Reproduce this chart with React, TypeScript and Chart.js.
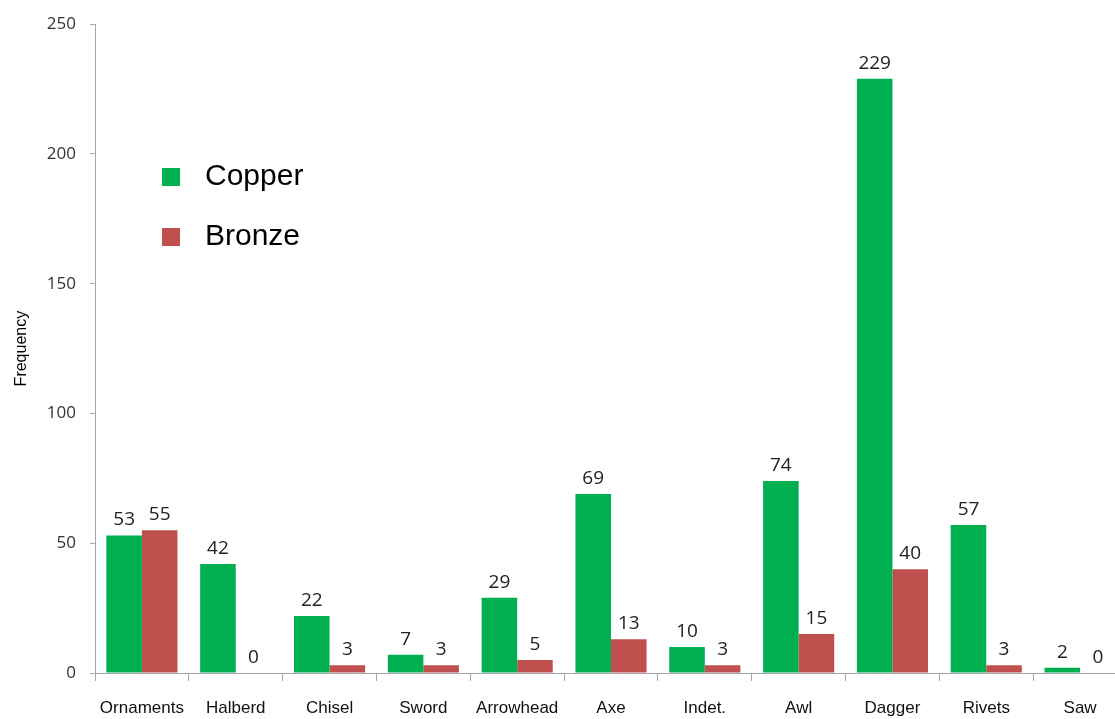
import React, { useEffect, useRef } from "react";
import { Chart, registerables } from "chart.js";

Chart.register(...registerables);

const categories = ["Ornaments", "Halberd", "Chisel", "Sword", "Arrowhead", "Axe", "Indet.", "Awl", "Dagger", "Rivets", "Saw"];
const copperValues = [53, 42, 22, 7, 29, 69, 10, 74, 229, 57, 2];
const bronzeValues = [55, 0, 3, 3, 5, 13, 3, 15, 40, 3, 0];
const yTicks = [0, 50, 100, 150, 200, 250];

const GREEN = "#00b050";
const RED = "#c0504d";
const AXIS = "#a6a6a6";

const valueLabels = {
  id: "valueLabels",
  afterDatasetsDraw(chart: any) {
    const ctx = chart.ctx;
    ctx.save();
    ctx.font = "19px 'Open Sans'";
    ctx.fillStyle = "#222";
    ctx.textAlign = "center";
    ctx.textBaseline = "bottom";
    chart.data.datasets.forEach((ds: any, di: number) => {
      const meta = chart.getDatasetMeta(di);
      meta.data.forEach((el: any, i: number) => {
        ctx.fillText(String(ds.data[i]), el.x, el.y - 6);
      });
    });
    ctx.restore();
  },
};

const innerLegend = {
  id: "innerLegend",
  afterDraw(chart: any) {
    const ctx = chart.ctx;
    ctx.save();
    ctx.font = "30px 'Liberation Sans'";
    ctx.textBaseline = "middle";
    ctx.textAlign = "left";
    chart.data.datasets.forEach((ds: any, i: number) => {
      const cy = 177 + i * 60;
      ctx.fillStyle = ds.backgroundColor;
      ctx.fillRect(162, cy - 9, 18, 18);
      ctx.fillStyle = "#000";
      ctx.fillText(ds.label, 205, cy);
    });
    ctx.restore();
  },
};

export default function App() {
  const ref = useRef<HTMLCanvasElement>(null);
  useEffect(() => {
    if (!ref.current) return;
    const chart = new Chart(ref.current, {
      type: "bar",
      data: {
        labels: categories,
        datasets: [
          { label: "Copper", data: copperValues, backgroundColor: GREEN, categoryPercentage: 0.758, barPercentage: 1.0 },
          { label: "Bronze", data: bronzeValues, backgroundColor: RED, categoryPercentage: 0.758, barPercentage: 1.0 },
        ],
      },
      options: {
        responsive: false,
        animation: false,
        layout: { padding: { top: 23, right: 13, bottom: 0, left: 0 } },
        plugins: { legend: { display: false }, tooltip: { enabled: false } },
        scales: {
          x: {
            offset: true,
            grid: { display: true, offset: true, drawOnChartArea: false, drawTicks: true, tickLength: 8, color: AXIS },
            border: { display: true, color: AXIS, width: 1 },
            ticks: { font: { family: "'Liberation Sans'", size: 17 }, color: "#111", padding: 17, maxRotation: 0, autoSkip: false },
            afterFit(scale: any) { scale.height = 46; },
          },
          y: {
            min: 0,
            max: 250,
            afterBuildTicks(scale: any) { scale.ticks = yTicks.map((v) => ({ value: v })); },
            grid: { display: true, drawOnChartArea: false, drawTicks: true, tickLength: 5, color: AXIS },
            border: { display: true, color: AXIS, width: 1 },
            ticks: { font: { family: "'Open Sans'", size: 17 }, color: "#333", padding: 14 },
            title: { display: true, text: "Frequency", font: { family: "'Liberation Sans'", size: 16 }, color: "#000", padding: { top: 12, bottom: 0 } },
            afterFit(scale: any) { scale.width = 95; },
          },
        },
      },
      plugins: [valueLabels, innerLegend],
    });
    return () => chart.destroy();
  }, []);
  return (
    <div style={{ position: "fixed", left: 0, top: 0, width: 1115, height: 719, overflow: "hidden", background: "#fff" }}>
      <canvas ref={ref} width={1140} height={719} style={{ display: "block" }} />
    </div>
  );
}
